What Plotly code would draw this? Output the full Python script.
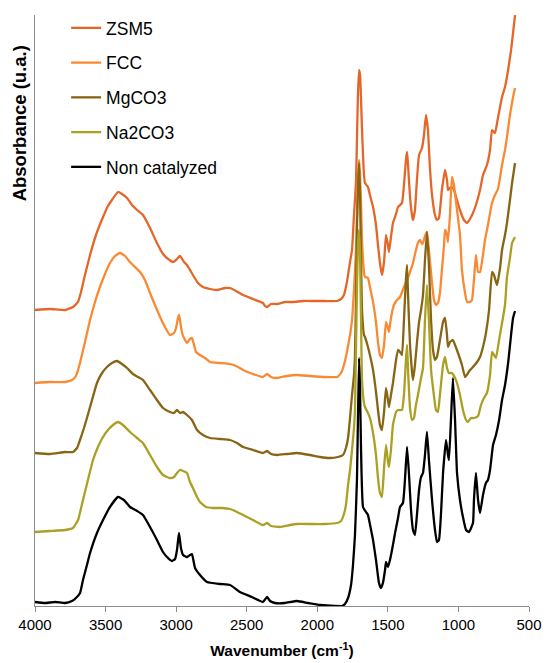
import plotly.graph_objects as go

# ---------------- data ----------------
wn_noncat = [4000,3929,3858,3787,3738,3710,3681,3660,3632,3610,3561,3518,3469,3412,3370,3327,3277,3235,3185,3136,3093,3065,3029,3008,2994,2980,2966,2951,2923,2902,2888,2866,2831,2781,2689,2618,2548,2463,2385,2356,2335,2300,2229,2144,2066,1981,1875,1825,1804,1782,1761,1747,1733,1719,1712,1704,1697,1690,1676,1655,1641,1619,1605,1584,1563,1549,1535,1520,1513,1499,1485,1464,1449,1428,1414,1393,1379,1364,1350,1336,1322,1308,1294,1279,1265,1251,1237,1223,1209,1187,1166,1152,1138,1124,1109,1088,1074,1067,1053,1039,1024,1010,989,968,946,925,897,890,876,861,847,826,805,791,776,755,734,712,691,670,648,627,613,599]
ab_noncat = [0.04,0.03,0.04,0.03,0.05,0.08,0.13,0.26,0.41,0.53,0.73,0.86,0.99,1.09,1.06,0.99,0.95,0.91,0.79,0.66,0.54,0.49,0.45,0.47,0.56,0.73,0.58,0.51,0.49,0.51,0.52,0.38,0.31,0.24,0.22,0.21,0.14,0.09,0.04,0.09,0.05,0.03,0.03,0.05,0.03,0.01,0.00,0.00,0.02,0.08,0.21,0.41,0.71,1.26,1.86,2.48,2.16,1.56,0.99,0.94,0.91,0.76,0.66,0.46,0.23,0.18,0.23,0.36,0.44,0.39,0.46,0.61,0.73,0.88,0.99,1.03,1.26,1.59,1.31,0.96,0.76,0.71,0.91,1.16,1.29,1.33,1.51,1.74,1.46,1.06,0.76,0.64,0.66,0.91,1.33,1.66,1.51,1.46,1.86,2.28,1.86,1.33,1.06,0.89,0.76,0.74,0.83,1.06,1.33,1.06,0.93,1.11,1.23,1.26,1.36,1.61,1.71,1.86,2.06,2.21,2.43,2.71,2.88,2.95]

wn_zsm5 = [4000,3894,3787,3731,3695,3674,3646,3610,3568,3518,3483,3455,3412,3384,3348,3313,3277,3235,3185,3136,3093,3065,3022,2994,2973,2944,2923,2881,2845,2810,2760,2711,2654,2618,2576,2526,2456,2385,2370,2356,2328,2285,2229,2172,2101,2030,1945,1860,1832,1811,1790,1768,1754,1740,1726,1719,1712,1704,1697,1690,1683,1669,1662,1641,1627,1605,1584,1570,1556,1542,1527,1513,1499,1492,1478,1464,1442,1428,1400,1386,1372,1364,1357,1343,1329,1322,1308,1294,1279,1258,1244,1230,1216,1201,1187,1166,1152,1138,1117,1095,1081,1074,1060,1046,1032,1010,989,961,939,918,897,876,847,826,798,776,762,741,720,691,670,648,627,613,599]
ab_zsm5 = [2.96,2.97,2.96,2.99,3.04,3.14,3.31,3.51,3.71,3.89,4.00,4.06,4.14,4.12,4.08,4.01,3.96,3.91,3.78,3.63,3.52,3.48,3.44,3.47,3.50,3.44,3.41,3.31,3.23,3.19,3.17,3.16,3.18,3.18,3.15,3.11,3.07,3.03,3.00,2.99,3.02,3.02,3.04,3.04,3.05,3.05,3.05,3.05,3.07,3.11,3.24,3.44,3.56,3.91,4.23,4.66,5.11,5.36,5.31,5.06,4.76,4.31,4.23,4.19,4.11,3.99,3.81,3.61,3.43,3.31,3.44,3.71,3.61,3.54,3.69,3.83,3.92,3.99,4.03,4.21,4.46,4.54,4.41,4.09,3.91,3.86,3.96,4.26,4.51,4.58,4.71,4.91,4.76,4.36,4.11,3.91,3.86,3.88,4.16,4.36,4.26,4.16,4.18,4.19,4.16,4.06,3.96,3.86,3.83,3.87,3.93,4.01,4.16,4.31,4.41,4.56,4.76,4.73,4.88,5.09,5.19,5.36,5.56,5.73,5.91]

wn_fcc = [4000,3894,3787,3738,3710,3681,3646,3610,3575,3540,3504,3469,3433,3398,3362,3327,3292,3256,3221,3185,3150,3114,3079,3044,3015,3001,2987,2980,2973,2958,2937,2923,2902,2888,2873,2859,2831,2796,2760,2689,2618,2576,2526,2456,2385,2356,2328,2285,2215,2144,2052,1945,1860,1832,1811,1790,1768,1754,1740,1726,1719,1712,1704,1697,1690,1683,1669,1662,1641,1627,1605,1584,1570,1556,1542,1527,1513,1499,1492,1478,1457,1435,1414,1386,1364,1343,1322,1301,1287,1272,1258,1251,1237,1223,1209,1187,1173,1159,1145,1131,1117,1102,1095,1081,1074,1060,1046,1032,1010,989,975,953,939,918,904,890,876,861,847,826,812,791,762,741,720,691,670,656,635,613,599]
ab_fcc = [2.23,2.24,2.24,2.26,2.30,2.43,2.64,2.86,3.04,3.19,3.32,3.43,3.50,3.53,3.50,3.44,3.39,3.34,3.26,3.13,3.01,2.89,2.79,2.71,2.73,2.78,2.88,2.91,2.86,2.73,2.66,2.63,2.67,2.68,2.61,2.54,2.51,2.48,2.44,2.43,2.42,2.40,2.36,2.32,2.29,2.32,2.29,2.28,2.30,2.31,2.30,2.29,2.29,2.33,2.41,2.54,2.71,2.86,3.16,3.56,3.91,4.26,4.46,4.31,4.01,3.66,3.34,3.29,3.28,3.19,3.04,2.84,2.64,2.51,2.48,2.61,2.84,2.78,2.74,2.88,3.01,3.06,3.09,3.19,3.26,3.34,3.43,3.56,3.63,3.66,3.62,3.63,3.70,3.74,3.56,3.23,3.06,3.01,3.03,3.13,3.36,3.61,3.76,3.71,3.64,3.91,4.29,4.21,3.96,3.71,3.36,3.13,3.04,3.04,3.06,3.26,3.51,3.34,3.34,3.51,3.66,3.81,4.03,4.11,4.17,4.41,4.56,4.69,4.91,5.09,5.18]

wn_mgco3 = [4000,3894,3787,3731,3702,3681,3653,3632,3596,3561,3525,3490,3455,3419,3384,3348,3306,3270,3235,3185,3136,3093,3044,3015,2994,2973,2951,2923,2888,2852,2810,2760,2689,2618,2569,2526,2456,2385,2356,2328,2285,2215,2144,2052,1981,1910,1853,1818,1797,1782,1768,1754,1740,1733,1726,1719,1712,1704,1697,1690,1683,1669,1662,1641,1627,1605,1584,1570,1556,1542,1527,1513,1499,1492,1478,1464,1442,1428,1414,1400,1386,1372,1364,1357,1343,1329,1322,1308,1294,1279,1265,1251,1237,1223,1209,1194,1180,1166,1152,1131,1109,1095,1081,1074,1060,1039,1024,1003,975,953,932,918,897,868,847,826,805,783,762,748,727,705,691,670,656,635,620,599]
ab_mgco3 = [1.53,1.52,1.54,1.54,1.58,1.66,1.78,1.88,2.06,2.23,2.33,2.39,2.43,2.45,2.42,2.38,2.32,2.29,2.26,2.16,2.06,1.98,1.94,1.93,1.96,1.93,1.94,1.91,1.86,1.76,1.71,1.68,1.67,1.66,1.63,1.59,1.56,1.53,1.55,1.52,1.51,1.52,1.53,1.51,1.49,1.48,1.49,1.51,1.58,1.68,1.88,2.11,2.31,2.51,3.06,3.76,4.16,4.43,4.11,3.46,2.96,2.71,2.69,2.59,2.51,2.36,2.14,1.96,1.81,1.76,1.94,2.18,2.06,1.99,2.11,2.23,2.46,2.56,2.54,2.51,2.86,3.26,3.41,3.11,2.61,2.34,2.26,2.41,2.63,2.84,2.96,3.11,3.46,3.74,3.41,2.86,2.56,2.46,2.49,2.66,2.84,2.88,2.71,2.59,2.64,2.66,2.61,2.53,2.41,2.29,2.33,2.36,2.39,2.44,2.49,2.59,2.73,2.96,3.34,3.31,3.21,3.38,3.56,3.71,3.83,4.06,4.23,4.43]

wn_na2co3 = [4000,3894,3787,3731,3695,3660,3625,3589,3554,3518,3483,3447,3412,3377,3327,3277,3235,3185,3136,3093,3044,3015,2994,2973,2951,2923,2902,2881,2852,2831,2788,2739,2675,2618,2569,2526,2456,2385,2356,2328,2264,2193,2144,2052,1945,1860,1832,1811,1797,1782,1768,1754,1740,1733,1726,1719,1712,1704,1697,1690,1683,1669,1662,1641,1627,1605,1584,1570,1556,1542,1527,1513,1499,1492,1478,1464,1442,1428,1400,1386,1372,1364,1357,1343,1329,1315,1301,1287,1265,1251,1237,1223,1209,1194,1180,1159,1145,1131,1109,1095,1081,1067,1046,1024,1010,989,968,946,932,911,890,861,840,819,798,776,762,748,734,712,691,670,656,635,620,599]
ab_na2co3 = [0.74,0.75,0.76,0.78,0.86,1.06,1.26,1.46,1.59,1.69,1.76,1.81,1.84,1.81,1.74,1.68,1.63,1.51,1.39,1.31,1.28,1.29,1.33,1.36,1.35,1.33,1.24,1.18,1.09,1.04,0.99,0.98,0.98,0.97,0.94,0.91,0.86,0.81,0.83,0.80,0.79,0.81,0.82,0.82,0.82,0.83,0.85,0.92,1.01,1.21,1.36,1.56,1.78,1.96,2.56,3.16,3.61,3.76,3.51,2.86,2.26,2.03,1.99,1.93,1.88,1.73,1.51,1.28,1.13,1.09,1.38,1.61,1.44,1.39,1.56,1.81,1.94,1.96,1.96,2.11,2.46,2.61,2.36,1.98,1.86,1.88,2.01,2.11,2.28,2.38,2.86,3.21,2.86,2.36,2.18,1.96,1.94,2.11,2.41,2.49,2.38,2.33,2.33,2.28,2.23,2.11,1.96,1.86,1.84,1.88,1.88,1.90,2.01,2.08,2.13,2.31,2.54,2.51,2.48,2.66,2.83,3.01,3.29,3.48,3.63,3.69]

series_names = ["ZSM5", "FCC", "MgCO3", "Na2CO3", "Non catalyzed"]
series_colors = ["#E4672A", "#F98A33", "#876515", "#ABA024", "#000000"]
x_ticks = [4000, 3500, 3000, 2500, 2000, 1500, 1000, 500]

series_x = [wn_zsm5, wn_fcc, wn_mgco3, wn_na2co3, wn_noncat]
series_y = [ab_zsm5, ab_fcc, ab_mgco3, ab_na2co3, ab_noncat]

FONT = "Liberation Sans, Arial, sans-serif"
AXIS_GRAY = "#8C8C8C"

fig = go.Figure()
for i, (name, col, xs, ys) in enumerate(zip(series_names, series_colors, series_x, series_y)):
    fig.add_trace(go.Scatter(
        x=xs, y=ys, name=name, mode="lines",
        line=dict(color=col, width=2.3, shape="spline", smoothing=0.4),
        legendgroup=f"g{i}",
    ))

fig.update_layout(
    width=544, height=663,
    margin=dict(l=35, r=15, t=15, b=57, autoexpand=False),
    paper_bgcolor="white", plot_bgcolor="white",
    font=dict(family=FONT, color="black"),
    showlegend=True,
    legend=dict(
        x=0.063, y=1.0085, xanchor="left", yanchor="top",
        font=dict(size=17.5, family=FONT, color="black"),
        bgcolor="rgba(0,0,0,0)", itemwidth=30, tracegroupgap=9,
        traceorder="grouped",
    ),
    xaxis=dict(
        range=[4000, 500], tickvals=x_ticks, ticktext=[str(t) for t in x_ticks],
        automargin=False,
        showline=True, linecolor=AXIS_GRAY, linewidth=1,
        ticks="outside", ticklen=5, tickcolor=AXIS_GRAY,
        showgrid=False, zeroline=False,
        tickfont=dict(size=15, family=FONT, color="black"),
        title=dict(text="<b>Wavenumber (cm<sup>-1</sup>)</b>", standoff=13,
                   font=dict(size=15.5, family=FONT, color="black")),
    ),
    yaxis=dict(
        range=[0, 5.91], showline=True, linecolor=AXIS_GRAY, linewidth=1,
        automargin=False,
        showticklabels=False, ticks="", showgrid=False, zeroline=False,
    ),
    annotations=[dict(
        text="<b>Absorbance (u.a.)</b>", textangle=-90,
        xref="paper", yref="paper", x=-0.032, y=0.817,
        xanchor="center", yanchor="middle", showarrow=False,
        font=dict(size=18.5, family=FONT, color="black"),
    )],
)

fig.write_html("out.html")
